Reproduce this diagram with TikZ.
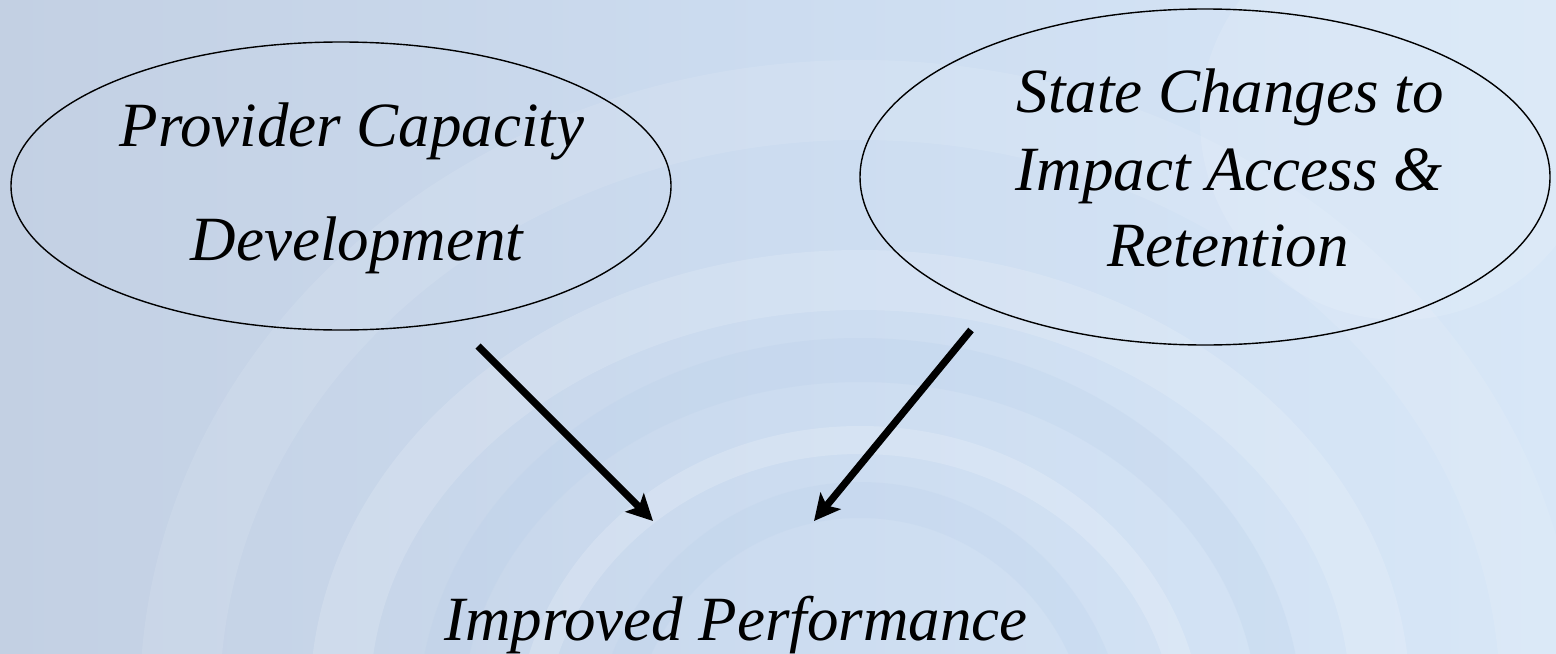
\documentclass[tikz,border=0pt]{standalone}
\usepackage{fontspec}
\setmainfont{Liberation Serif}[ItalicFont=Liberation Serif Italic]
\usetikzlibrary{arrows.meta,shapes.geometric}
\definecolor{bgleft}{HTML}{C3D0E3}
\definecolor{bgmid}{HTML}{CCDCF0}
\definecolor{bgright}{HTML}{D8E7F7}
\definecolor{swirl}{HTML}{B4CCE8}
\tikzset{
  bubble/.style={draw=black, line width=0.7pt, ellipse, inner sep=0pt},
  label/.style={font=\fontsize{31.5}{38.5}\selectfont\itshape, align=center, text=black},
  link/.style={line width=3.6pt, -{Stealth[length=13pt,width=13pt,inset=3pt]}},
}
\begin{document}
\begin{tikzpicture}[x=0.5pt,y=-0.5pt]
  % background panel
  \useasboundingbox (0,0) rectangle (1556,653);
  \shade[left color=bgleft, right color=bgright, middle color=bgmid] (0,0) rectangle (1556,653);
  % faint swirl arcs
  \begin{scope}
    \clip (0,0) rectangle (1556,653);
    \draw[white, opacity=0.15, line width=30pt] (860,700) ellipse (520 and 420);
    \draw[swirl, opacity=0.2, line width=22pt] (860,720) ellipse (420 and 360);
    \draw[white, opacity=0.18, line width=14pt] (860,740) ellipse (330 and 300);
    \draw[swirl, opacity=0.18, line width=18pt] (860,760) ellipse (250 and 260);
    \draw[white, opacity=0.1, line width=40pt] (860,700) ellipse (680 and 600);
    \fill[white, opacity=0.12] (1400,120) circle (200);
  \end{scope}
  % nodes
  \node[bubble, minimum width=330pt, minimum height=144pt] (pc) at (341,186) {};
  \node[label, anchor=base] (pcl) at (352,146) {Provider Capacity};
  \node[label, anchor=base] (pcd) at (357,260) {Development};
  \node[bubble, minimum width=345pt, minimum height=168pt] (sc) at (1205,177) {};
  \node[label, anchor=base] (sca) at (1229,190) {Impact Access \&};
  \node[label, anchor=base] (scs) at (1230,112) {State Changes to};
  \node[label, anchor=base] (scr) at (1228,266) {Retention};
  \node[label, anchor=base] (ip) at (736,640) {Improved Performance};
  % connectors
  \coordinate (a1s) at (478,346);
  \coordinate (a1e) at (653,521);
  \coordinate (a2s) at (971,330);
  \coordinate (a2e) at (814,521);
  \draw[link] (a1s) -- (a1e);
  \draw[link] (a2s) -- (a2e);
\end{tikzpicture}
\end{document}
